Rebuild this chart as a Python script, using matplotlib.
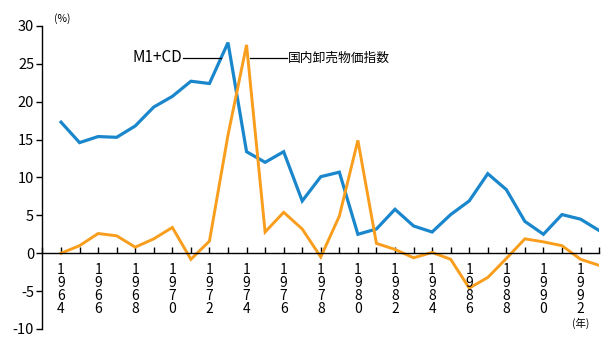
import matplotlib
matplotlib.use("Agg")
import matplotlib.pyplot as plt
import numpy as np

plt.rcParams['font.family'] = ['Noto Sans CJK JP', 'DejaVu Sans']

years = list(range(1964, 1994))
m1_cd = [17.3, 14.6, 15.4, 15.3, 16.8, 19.3, 20.7, 22.7, 22.4, 27.8,
         13.4, 12.0, 13.4, 6.9, 10.1, 10.7, 2.5, 3.2, 5.8, 3.6,
         2.8, 5.1, 6.9, 10.5, 8.4, 4.2, 2.5, 5.1, 4.5, 3.0]
wpi = [0.0, 1.0, 2.6, 2.3, 0.8, 1.9, 3.4, -0.8, 1.6, 15.6,
       27.5, 2.8, 5.4, 3.2, -0.5, 4.9, 14.9, 1.3, 0.5, -0.6,
       0.1, -0.8, -4.6, -3.2, -0.7, 1.9, 1.5, 1.0, -0.8, -1.6]
yticks = [-10, -5, 0, 5, 10, 15, 20, 25, 30]
label_years = list(range(1964, 1993, 2))

blue = '#1a87cc'
orange = '#f99d1c'

fig = plt.figure(figsize=(6.11, 3.39), dpi=100)
ax = fig.add_axes([0.0695, 0.0295, 0.911, 0.894])

ax.plot(years, m1_cd, color=blue, lw=2.3, solid_joinstyle='miter')
ax.plot(years, wpi, color=orange, lw=2.1, solid_joinstyle='miter')

ax.set_xlim(1963, 1993)
ax.set_ylim(-10, 30)

for s in ['top', 'right']:
    ax.spines[s].set_visible(False)
ax.spines['bottom'].set_position(('data', 0))
ax.spines['bottom'].set_bounds(1963, 1993)
ax.spines['left'].set_linewidth(1.0)
ax.spines['bottom'].set_linewidth(1.0)

ax.set_yticks(yticks)
ax.set_yticklabels([str(v) for v in yticks], fontsize=10.5)
ax.tick_params(axis='y', direction='out', length=4, width=1, pad=2)

ax.set_xticks(range(1963, 1994))
ax.set_xticklabels([])
ax.tick_params(axis='x', direction='in', length=4, width=1)

# stacked year labels
for y in label_years:
    ax.text(y, -1.3, '\n'.join(str(y)), ha='center', va='top',
            fontsize=10, linespacing=0.92)

ax.text(1992, -9.2, '(年)', ha='center', va='center', fontsize=7.5)
ax.text(1963.6, 31.0, '(%)', ha='left', va='center', fontsize=7.5,
        clip_on=False)

# series labels with leader lines
ax.plot([1970.6, 1972.6], [25.8, 25.8], color='black', lw=0.9)
ax.text(1970.55, 25.8, 'M1+CD', ha='right', va='center', fontsize=11)
ax.plot([1974.2, 1976.2], [25.8, 25.8], color='black', lw=0.9)
ax.text(1976.25, 25.8, '国内卸売物価指数', ha='left', va='center', fontsize=9.2)

fig.savefig('out.png', dpi=100)
